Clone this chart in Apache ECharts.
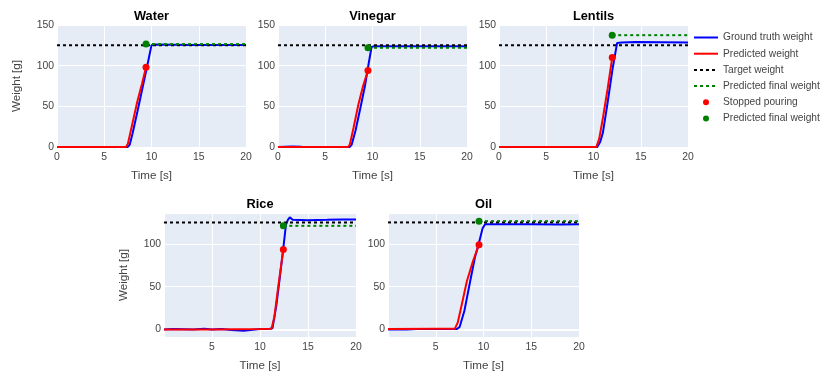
<!DOCTYPE html>
<html>
<head>
<meta charset="utf-8">
<script src="https://cdn.jsdelivr.net/npm/echarts@6/dist/echarts.min.js"></script>
<style>
  html, body { margin: 0; padding: 0; background: #fff; }
  #chart { width: 831px; height: 381px; }
</style>
</head>
<body>
<div id="chart"></div>
<script>
// panels, left to right, top row then bottom row
const panelNames = ['Water', 'Vinegar', 'Lentils', 'Rice', 'Oil']

// [time s, weight g]
const waterTruth = [[0, 0], [7.5, 0], [7.7, 3], [8, 17], [8.5, 43], [9, 70], [9.5, 97], [9.8, 114], [10, 125], [10.3, 126], [14, 125.5], [20, 125.5]]
const waterPred = [[0, 0], [7.3, 0], [7.5, 4], [8, 30], [8.5, 56], [9, 78], [9.42, 98]]

const vinegarTruth = [[0, 0], [1.5, 0.5], [2.5, 0.3], [7.6, 0], [7.8, 3], [8.2, 20], [8.7, 47], [9.2, 75], [9.6, 103], [9.9, 123], [10.2, 124], [20, 124]]
const vinegarPred = [[0, 0], [7.4, 0], [7.6, 3], [8, 24], [8.5, 52], [9, 75], [9.52, 94]]

const lentilsTruth = [[0, 0], [10.4, 0], [10.7, 6], [11, 18], [11.5, 55], [12, 95], [12.5, 128], [13, 128.5], [14.5, 129], [20, 128.5]]
const lentilsPred = [[0, 0], [10.3, 0], [10.6, 10], [11, 36], [11.5, 72], [11.98, 110]]

const riceTruth = [[0, 0], [1, 0.5], [3, 0], [4.2, 0.8], [5, 0], [6, 0.5], [7, -0.5], [8.3, -1.5], [9, -0.5], [10, 0.5], [11, 1], [11.3, 1.5], [11.7, 28], [12.1, 64], [12.4, 92], [12.7, 122], [12.9, 128], [13.1, 131], [13.4, 128], [15, 127.5], [17, 128], [18.5, 128.5], [20, 128.5]]
const ricePred = [[0, 0], [5, 0], [10, 0.5], [11.2, 1], [11.5, 15], [11.9, 50], [12.2, 75], [12.43, 93.5]]

const oilTruth = [[0, 0], [2, 0], [3, 0.5], [5, 0.5], [7.2, 0.5], [7.5, 3], [8, 22], [8.6, 56], [9.1, 84], [9.5, 100], [9.9, 118], [10.16, 123], [10.5, 123], [15, 123], [18, 122.5], [20, 123]]
const oilPred = [[0, 0.5], [5, 1], [7, 1], [7.3, 8], [7.8, 33], [8.25, 56], [8.9, 80], [9.53, 99]]

const truthSeries = [waterTruth, vinegarTruth, lentilsTruth, riceTruth, oilTruth]
const predSeries = [waterPred, vinegarPred, lentilsPred, ricePred, oilPred]

const targetWeight = 125
const stopTimes = [9.42, 9.52, 11.98, 12.43, 9.53]
const stopWeights = [98, 94, 110, 93.5, 99]
const predictedFinal = [126.5, 122, 137.5, 121, 126.5]
const timeMax = 20

const FONT = '"Liberation Sans", Arial, sans-serif'
const grids = [
  { left: 57, top: 25, width: 189, height: 122 },
  { left: 278, top: 25, width: 189, height: 122 },
  { left: 499, top: 25, width: 189, height: 122 },
  { left: 164, top: 213, width: 192, height: 124 },
  { left: 388, top: 213, width: 191, height: 124 },
]
const topRow = i => i < 3

const chart = echarts.init(document.getElementById('chart'), null, { renderer: 'canvas' })

const axisText = { color: '#444', fontSize: 10.4, fontFamily: FONT }
const nameText = { color: '#444', fontSize: 11.6, fontFamily: FONT }
const gridLine = { show: true, lineStyle: { color: '#fff', width: 1 } }

const xAxes = grids.map((g, i) => ({
  type: 'value',
  gridIndex: i,
  min: 0,
  max: timeMax,
  interval: 5,
  axisLine: { show: false },
  axisTick: { show: false },
  splitLine: gridLine,
  axisLabel: Object.assign({ margin: 5, showMinLabel: topRow(i) }, axisText),
  name: 'Time [s]',
  nameLocation: 'middle',
  nameGap: 23,
  nameTextStyle: nameText,
}))

const yAxes = grids.map((g, i) => {
  const axis = {
    type: 'value',
    gridIndex: i,
    axisLine: { show: false },
    axisTick: { show: false },
    splitLine: gridLine,
    axisLabel: Object.assign({ margin: 3 }, axisText),
  }
  if (topRow(i)) {
    axis.min = 0
    axis.max = 150
    axis.interval = 50
  } else {
    axis.min = -8.7
    axis.max = 136
    axis.splitNumber = 3
    axis.axisLabel.formatter = v => (Math.abs(v % 50) < 1e-6 ? String(v) : '')
  }
  if (i === 0 || i === 3) {
    axis.name = 'Weight [g]'
    axis.nameLocation = 'middle'
    axis.nameGap = 34
    axis.nameTextStyle = nameText
  }
  return axis
})

const series = []
panelNames.forEach((name, i) => {
  const axes = { xAxisIndex: i, yAxisIndex: i }
  const truth = {
    name: 'Ground truth weight',
    type: 'line',
    data: truthSeries[i],
    symbol: 'none',
    color: '#0000ff',
    lineStyle: { width: 2, color: '#0000ff' },
    z: 2,
  }
  if (!topRow(i)) {
    // plotly-like zero line
    truth.markLine = {
      silent: true,
      symbol: 'none',
      z: 1,
      label: { show: false },
      lineStyle: { color: '#fff', width: 2, type: 'solid' },
      data: [{ yAxis: 0 }],
    }
  }
  series.push(Object.assign(truth, axes))
  series.push(Object.assign({
    name: 'Predicted weight',
    type: 'line',
    data: predSeries[i],
    symbol: 'none',
    color: '#ff0000',
    lineStyle: { width: 2, color: '#ff0000' },
    z: 3,
  }, axes))
  series.push(Object.assign({
    name: 'Target weight',
    type: 'line',
    data: [[0, targetWeight], [timeMax, targetWeight]],
    symbol: 'none',
    color: '#000',
    lineStyle: { width: 2, color: '#000', type: [3, 3] },
    z: 4,
  }, axes))
  series.push(Object.assign({
    name: 'Predicted final weight',
    type: 'line',
    data: [[stopTimes[i], predictedFinal[i]], [timeMax, predictedFinal[i]]],
    symbol: 'none',
    color: '#008000',
    lineStyle: { width: 2, color: '#008000', type: [3, 3] },
    z: 5,
  }, axes))
  series.push(Object.assign({
    name: 'Stopped pouring',
    type: 'scatter',
    data: [[stopTimes[i], stopWeights[i]]],
    symbolSize: 7,
    itemStyle: { color: '#ff0000', opacity: 1 },
    z: 6,
  }, axes))
  series.push(Object.assign({
    name: 'Predicted final weight ',
    type: 'scatter',
    data: [[stopTimes[i], predictedFinal[i]]],
    symbolSize: 7,
    itemStyle: { color: '#008000', opacity: 1 },
    z: 6,
  }, axes))
})

const titles = panelNames.map((name, i) => ({
  type: 'text',
  x: grids[i].left + grids[i].width / 2,
  y: topRow(i) ? 16 : 204,
  style: {
    text: name,
    align: 'center',
    verticalAlign: 'middle',
    fontSize: 12.8,
    fontWeight: 'bold',
    fontFamily: FONT,
    fill: '#000',
  },
}))

// line entries: hide the symbol ECharts puts in the middle of the icon
const lineEntry = name => ({ name, itemStyle: { color: 'rgba(0,0,0,0)', borderWidth: 0, opacity: 0 } })

const option = {
  animation: false,
  backgroundColor: '#fff',
  grid: grids.map(g => Object.assign({ show: true, backgroundColor: '#e5ecf6', borderWidth: 0, containLabel: false }, g)),
  xAxis: xAxes,
  yAxis: yAxes,
  legend: {
    orient: 'vertical',
    left: 688,
    top: 27.5,
    itemWidth: 24,
    itemHeight: 6,
    itemGap: 6.2,
    textStyle: { color: '#444', fontSize: 10.2, fontFamily: FONT },
    data: [
      lineEntry('Ground truth weight'),
      lineEntry('Predicted weight'),
      lineEntry('Target weight'),
      lineEntry('Predicted final weight'),
      'Stopped pouring',
      'Predicted final weight ',
    ],
  },
  graphic: titles,
  series,
}

chart.setOption(option)
</script>
</body>
</html>
